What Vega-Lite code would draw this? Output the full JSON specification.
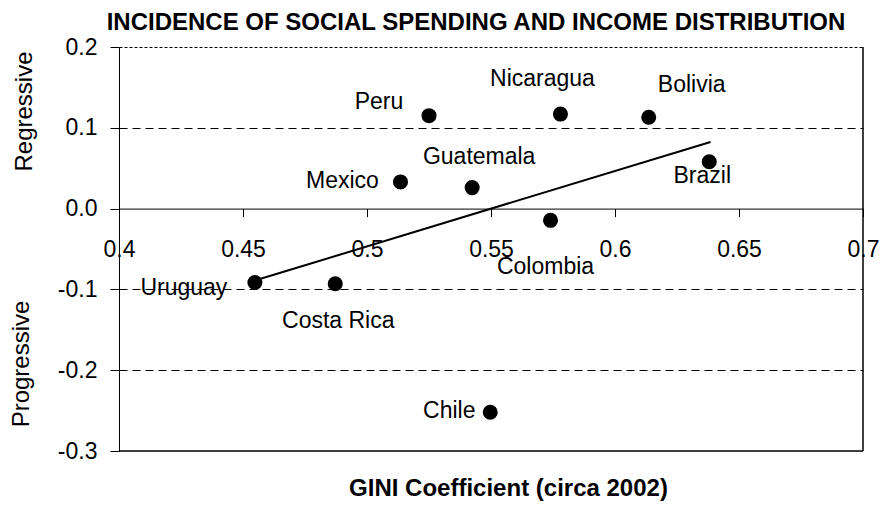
{
  "$schema": "https://vega.github.io/schema/vega-lite/v6.json",
  "autosize": {"type": "none"},
  "padding": {"left": 119, "top": 47, "right": 22, "bottom": 54},
  "width": 744,
  "height": 404,
  "background": "white",
  "title": {
    "text": "INCIDENCE OF SOCIAL SPENDING AND INCOME DISTRIBUTION",
    "font": "Liberation Sans",
    "fontSize": 24,
    "fontWeight": "bold",
    "color": "black",
    "anchor": "middle",
    "frame": "group",
    "dx": -15,
    "dy": 37,
    "baseline": "alphabetic",
    "offset": 19
  },
  "datasets": {
    "countries": [
      {"country": "Peru", "gini": 0.525, "incidence": 0.115},
      {"country": "Nicaragua", "gini": 0.578, "incidence": 0.117},
      {"country": "Bolivia", "gini": 0.6136, "incidence": 0.113},
      {"country": "Mexico", "gini": 0.5135, "incidence": 0.033},
      {"country": "Guatemala", "gini": 0.5424, "incidence": 0.026},
      {"country": "Brazil", "gini": 0.638, "incidence": 0.058},
      {"country": "Colombia", "gini": 0.574, "incidence": -0.0145},
      {"country": "Uruguay", "gini": 0.4548, "incidence": -0.0915},
      {"country": "Costa Rica", "gini": 0.4872, "incidence": -0.093},
      {"country": "Chile", "gini": 0.5497, "incidence": -0.252}
    ],
    "trend": [
      {"gini": 0.4548, "incidence": -0.089},
      {"gini": 0.6385, "incidence": 0.0825}
    ]
  },
  "config": {
    "view": {"stroke": null},
    "axis": {
      "labelFont": "Liberation Sans",
      "labelFontSize": 23,
      "labelColor": "black",
      "titleFont": "Liberation Sans",
      "titleColor": "black",
      "domainColor": "black",
      "tickColor": "black"
    }
  },
  "resolve": {"axis": {"y": "independent"}},
  "layer": [
    {
      "data": {"name": "countries"},
      "mark": {"type": "circle", "color": "black", "opacity": 1, "size": 227},
      "encoding": {
        "x": {
          "field": "gini",
          "type": "quantitative",
          "scale": {"domain": [0.4, 0.7], "nice": false, "zero": false},
          "axis": {
            "values": [0.4, 0.45, 0.5, 0.55, 0.6, 0.65, 0.7],
            "format": ".2~f",
            "offset": -242.4,
            "tickSize": 8,
            "labelPadding": 22,
            "labelBaseline": "top",
            "labelFlush": false,
            "grid": false,
            "title": "GINI Coefficient (circa 2002)",
            "titleFontSize": 24,
            "titleFontWeight": "bold",
            "titleX": 389,
            "titleY": 287,
            "titleAlign": "center",
            "titleBaseline": "alphabetic"
          }
        },
        "y": {
          "field": "incidence",
          "type": "quantitative",
          "scale": {"domain": [-0.3, 0.2], "nice": false, "zero": false},
          "axis": {
            "values": [-0.3, -0.2, -0.1, 0, 0.1, 0.2],
            "format": ".1f",
            "labelExpr": "replace(datum.label, '\u2212', '-')",
            "tickSize": 9,
            "labelPadding": 13,
            "labelFlush": false,
            "grid": true,
            "gridColor": "black",
            "gridWidth": 1,
            "gridDash": {"condition": {"test": "datum.value == 0.2", "value": [3, 2]}, "value": [8, 5]},
            "gridOpacity": {"condition": {"test": "datum.value == 0 || datum.value == -0.3", "value": 0}, "value": 1},
            "title": "Regressive",
            "titleFontSize": 24,
            "titleFontWeight": "normal",
            "titleAngle": -90,
            "titleX": -88,
            "titleY": 64,
            "titleAlign": "center",
            "titleBaseline": "alphabetic"
          }
        }
      }
    },
    {
      "data": {"name": "trend"},
      "mark": {"type": "rule", "color": "black", "strokeWidth": 1},
      "encoding": {
        "y": {"datum": -0.3, "type": "quantitative", "axis": null}
      }
    },
    {
      "data": {"name": "trend"},
      "mark": {"type": "rule", "color": "black", "strokeWidth": 1},
      "encoding": {
        "x": {"datum": 0.7, "type": "quantitative"}
      }
    },
    {
      "data": {"name": "trend"},
      "mark": {"type": "line", "color": "black", "strokeWidth": 2},
      "encoding": {
        "x": {"field": "gini", "type": "quantitative"},
        "y": {
          "field": "incidence",
          "type": "quantitative",
          "axis": {
            "orient": "left",
            "labels": false,
            "ticks": false,
            "domain": false,
            "grid": false,
            "title": "Progressive",
            "titleFontSize": 24,
            "titleFontWeight": "normal",
            "titleAngle": -90,
            "titleX": -91,
            "titleY": 316.5,
            "titleAlign": "center",
            "titleBaseline": "alphabetic"
          }
        }
      }
    },
    {"data": {"name": "countries"}, "transform": [{"filter": "datum.country == 'Peru'"}], "mark": {"type": "text", "font": "Liberation Sans", "fontSize": 23, "color": "black", "align": "center", "baseline": "alphabetic", "dx": -50, "dy": -7}, "encoding": {"x": {"field": "gini", "type": "quantitative"}, "y": {"field": "incidence", "type": "quantitative", "axis": null}, "text": {"field": "country"}}},
    {"data": {"name": "countries"}, "transform": [{"filter": "datum.country == 'Nicaragua'"}], "mark": {"type": "text", "font": "Liberation Sans", "fontSize": 23, "color": "black", "align": "center", "baseline": "alphabetic", "dx": -18, "dy": -28}, "encoding": {"x": {"field": "gini", "type": "quantitative"}, "y": {"field": "incidence", "type": "quantitative", "axis": null}, "text": {"field": "country"}}},
    {"data": {"name": "countries"}, "transform": [{"filter": "datum.country == 'Bolivia'"}], "mark": {"type": "text", "font": "Liberation Sans", "fontSize": 23, "color": "black", "align": "center", "baseline": "alphabetic", "dx": 43, "dy": -25}, "encoding": {"x": {"field": "gini", "type": "quantitative"}, "y": {"field": "incidence", "type": "quantitative", "axis": null}, "text": {"field": "country"}}},
    {"data": {"name": "countries"}, "transform": [{"filter": "datum.country == 'Mexico'"}], "mark": {"type": "text", "font": "Liberation Sans", "fontSize": 23, "color": "black", "align": "center", "baseline": "alphabetic", "dx": -58, "dy": 6}, "encoding": {"x": {"field": "gini", "type": "quantitative"}, "y": {"field": "incidence", "type": "quantitative", "axis": null}, "text": {"field": "country"}}},
    {"data": {"name": "countries"}, "transform": [{"filter": "datum.country == 'Guatemala'"}], "mark": {"type": "text", "font": "Liberation Sans", "fontSize": 23, "color": "black", "align": "center", "baseline": "alphabetic", "dx": 7, "dy": -23.5}, "encoding": {"x": {"field": "gini", "type": "quantitative"}, "y": {"field": "incidence", "type": "quantitative", "axis": null}, "text": {"field": "country"}}},
    {"data": {"name": "countries"}, "transform": [{"filter": "datum.country == 'Brazil'"}], "mark": {"type": "text", "font": "Liberation Sans", "fontSize": 23, "color": "black", "align": "center", "baseline": "alphabetic", "dx": -7, "dy": 21.5}, "encoding": {"x": {"field": "gini", "type": "quantitative"}, "y": {"field": "incidence", "type": "quantitative", "axis": null}, "text": {"field": "country"}}},
    {"data": {"name": "countries"}, "transform": [{"filter": "datum.country == 'Colombia'"}], "mark": {"type": "text", "font": "Liberation Sans", "fontSize": 23, "color": "black", "align": "center", "baseline": "alphabetic", "dx": -5, "dy": 54}, "encoding": {"x": {"field": "gini", "type": "quantitative"}, "y": {"field": "incidence", "type": "quantitative", "axis": null}, "text": {"field": "country"}}},
    {"data": {"name": "countries"}, "transform": [{"filter": "datum.country == 'Uruguay'"}], "mark": {"type": "text", "font": "Liberation Sans", "fontSize": 23, "color": "black", "align": "center", "baseline": "alphabetic", "dx": -71, "dy": 12.5}, "encoding": {"x": {"field": "gini", "type": "quantitative"}, "y": {"field": "incidence", "type": "quantitative", "axis": null}, "text": {"field": "country"}}},
    {"data": {"name": "countries"}, "transform": [{"filter": "datum.country == 'Costa Rica'"}], "mark": {"type": "text", "font": "Liberation Sans", "fontSize": 23, "color": "black", "align": "center", "baseline": "alphabetic", "dx": 3, "dy": 44}, "encoding": {"x": {"field": "gini", "type": "quantitative"}, "y": {"field": "incidence", "type": "quantitative", "axis": null}, "text": {"field": "country"}}},
    {"data": {"name": "countries"}, "transform": [{"filter": "datum.country == 'Chile'"}], "mark": {"type": "text", "font": "Liberation Sans", "fontSize": 23, "color": "black", "align": "center", "baseline": "alphabetic", "dx": -41, "dy": 6}, "encoding": {"x": {"field": "gini", "type": "quantitative"}, "y": {"field": "incidence", "type": "quantitative", "axis": null}, "text": {"field": "country"}}}
  ]
}
